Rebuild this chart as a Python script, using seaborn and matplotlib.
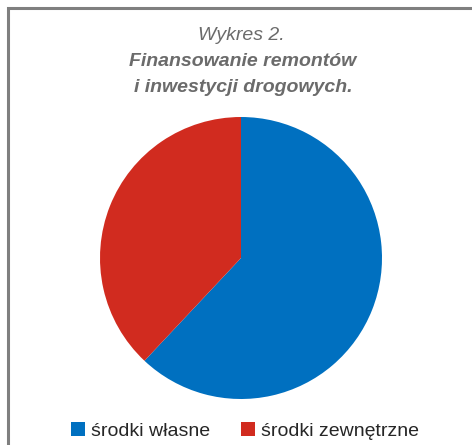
import matplotlib
matplotlib.use("Agg")
import matplotlib.pyplot as plt
import seaborn as sns
from matplotlib.patches import Rectangle

categories = ["środki własne", "środki zewnętrzne"]
values = [62, 38]
colors = ["#0070C0", "#D12B1F"]
title_line1 = "Wykres 2."
title_line2 = "Finansowanie remontów"
title_line3 = "i inwestycji drogowych."

sns.set_theme(style="white")
plt.rcParams['font.family'] = ['Liberation Sans Narrow', 'Liberation Sans', 'DejaVu Sans']

W, H = 472, 445
fig = plt.figure(figsize=(W/100, H/100), dpi=100)

# frame
fig.patches.append(Rectangle((8/W, -0.1), 1.2, (H-8)/H + 0.1, transform=fig.transFigure,
                             fill=False, edgecolor="#7f7f7f", linewidth=2.2, zorder=0))

ax = fig.add_axes([100/W, (H-258-141)/H, 282/W, 282/H])
ax.pie(values, colors=colors, startangle=90, counterclock=False,
       wedgeprops=dict(linewidth=0))
ax.set_xlim(-1.0, 1.0)
ax.set_ylim(-1.0, 1.0)
ax.set_aspect("equal")

fig.text(241/W, 1-36/H, title_line1, ha="center", va="center", fontsize=14,
         style="italic", color="#6b6b6b")
fig.text(243/W, 1-62/H, title_line2, ha="center", va="center", fontsize=14,
         style="italic", weight="bold", color="#6b6b6b")
fig.text(243/W, 1-88/H, title_line3, ha="center", va="center", fontsize=14,
         style="italic", weight="bold", color="#6b6b6b")

handles = [Rectangle((0, 0), 1, 1, facecolor=c, edgecolor="none") for c in colors]
fig.legend(handles, categories, loc="center", bbox_to_anchor=(245/W, 1-431/H), ncol=2,
           frameon=False, fontsize=14, handlelength=0.7, handleheight=0.7,
           handletextpad=0.3, columnspacing=1.6)

fig.savefig("out.png", dpi=100)
